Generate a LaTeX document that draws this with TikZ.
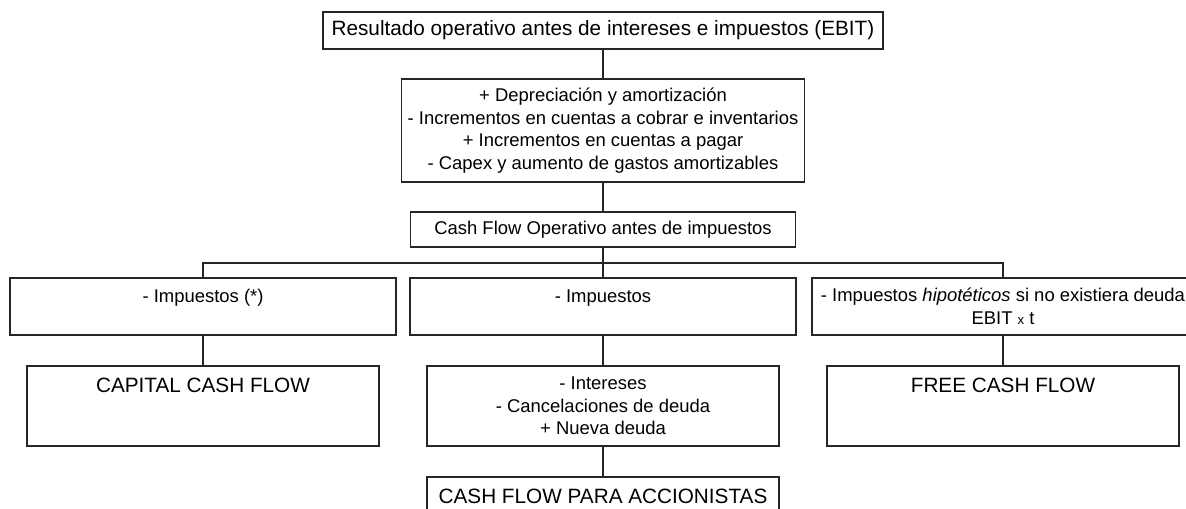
\documentclass[tikz,border=0pt]{standalone}
\usepackage{fontspec}
\setmainfont{Liberation Sans}
\usetikzlibrary{positioning,calc}

\begin{document}
\begin{tikzpicture}[x=0.02cm, y=-0.02cm, caja/.style={draw=black!85,
      line width=0.7pt, inner sep=0pt, align=center,
      font=\fontsize{10.5pt}{12.9pt}\selectfont},
      grande/.style={caja, font=\fontsize{11.8pt}{14pt}\selectfont},
      impuesto/.style={caja, minimum width=7.72cm, minimum height=1.14cm},
      arriba/.style={text height=0.3cm, text depth=0.45cm},
      resultado/.style={grande, minimum width=7.04cm, minimum height=1.6cm,
      text height=0.3cm, text depth=0.844cm},
      linea/.style={draw=black!85, line width=0.7pt} ]
    \useasboundingbox (0,0) rectangle (1186,509);
    \clip (0,0) rectangle (1186,509);

    % Upper boxes
    \node[grande, minimum width=11.2cm, minimum height=0.74cm] (ebit) at
    (603,30.5) {Resultado operativo antes de intereses e impuestos (EBIT)};
    \node[caja, minimum width=8.06cm, minimum height=2.06cm] (ajustes) at
    (603,130.5) {+ Depreciación y amortización\\- Incrementos en cuentas a
    cobrar e inventarios\\+ Incrementos en cuentas a pagar\\- Capex y aumento
    de gastos amortizables};
    \node[caja, minimum width=7.7cm, minimum height=0.7cm] (cfo) at
    (603,229.5) {Cash Flow Operativo antes de impuestos};

    % Taxes
    \node[impuesto, arriba] (impA) at (203,306.5) {- Impuestos (*)};
    \node[impuesto, arriba] (impB) at (603,306.5) {- Impuestos};
    \node[impuesto, minimum width=7.64cm] (impC) at (1003,306.5) {- Impuestos
    \textit{hipotéticos} si no existiera deuda\\EBIT {\fontsize{7.5pt}{8pt}\selectfont
    x} t};

    % Cash flows
    \node[resultado] (ccf) at (203,406) {CAPITAL CASH FLOW};
    \node[caja, minimum width=7.04cm, minimum height=1.6cm] (deuda) at
    (603,406) {- Intereses\\- Cancelaciones de deuda\\+ Nueva deuda};
    \node[resultado] (fcf) at (1003,406) {FREE CASH FLOW};
    \node[grande, minimum width=7.04cm, minimum height=0.76cm] (cfa) at
    (603,496) {CASH FLOW PARA ACCIONISTAS};

    % Connectors
    \coordinate (reparto) at (603,263);
    \draw[linea] (ebit) -- (ajustes); \draw[linea] (ajustes) -- (cfo);
    \draw[linea] (cfo.south) -- (reparto) -| (impA.north);
    \draw[linea] (reparto) -| (impC.north); \draw[linea] (reparto) --
    (impB.north);
    \draw[linea] (impA) -- (ccf); \draw[linea] (impB) -- (deuda);
    \draw[linea] (impC) -- (fcf); \draw[linea] (deuda) -- (cfa);

    \end{tikzpicture}
\end{document}
